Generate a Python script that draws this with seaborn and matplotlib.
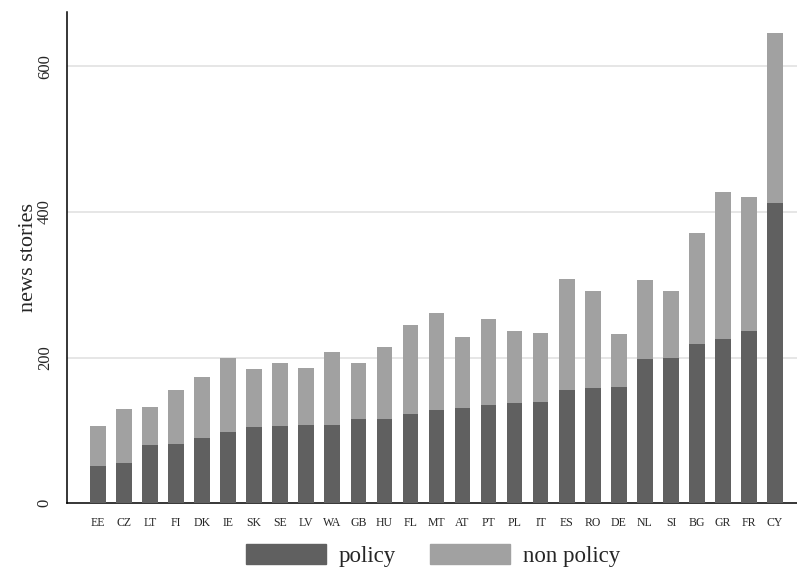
import matplotlib
matplotlib.use('Agg')

import matplotlib.pyplot as plt
import matplotlib.patches as mpatches
import pandas as pd
import seaborn as sns

sns.set_style("white")
plt.rcParams['font.family'] = ['Liberation Serif', 'DejaVu Serif']

# data
countries = ["EE", "CZ", "LT", "FI", "DK", "IE", "SK", "SE", "LV", "WA", "GB", "HU", "FL",
             "MT", "AT", "PT", "PL", "IT", "ES", "RO", "DE", "NL", "SI", "BG", "GR", "FR", "CY"]
policy = [51, 56, 80, 81, 90, 98, 105, 106, 107, 108, 116, 116, 122,
          128, 131, 135, 138, 139, 156, 158, 160, 198, 199, 219, 226, 237, 413]
total = [106, 130, 132, 155, 173, 199, 184, 192, 186, 208, 193, 214, 245,
         262, 229, 253, 237, 234, 308, 291, 233, 307, 292, 371, 427, 420, 646]

df = pd.DataFrame({"country": countries, "policy": policy, "total": total})

dark = "#606060"
light = "#a1a1a1"

fig = plt.figure(figsize=(7.97, 5.71), dpi=100)
ax = fig.add_axes([0.0837, 0.1185, 0.9163, 0.8605])

# total first (light), policy drawn over it (dark) -> stacked look
sns.barplot(data=df, x="country", y="total", color=light, width=0.6,
            saturation=1, edgecolor="none", ax=ax, zorder=2)
sns.barplot(data=df, x="country", y="policy", color=dark, width=0.6,
            saturation=1, edgecolor="none", ax=ax, zorder=3)

ax.set_ylim(0, 674.6)
ax.set_xlim(-1.196, 26.84)
ax.set_yticks([0, 200, 400, 600])
ax.set_yticklabels(["0", "200", "400", "600"], rotation=90, va="center", fontsize=12)
ax.tick_params(axis="y", length=6, width=1, color="black", pad=4)
ax.tick_params(axis="x", length=0, labelsize=8.5, pad=10)
for y in [200, 400, 600]:
    ax.axhline(y, color="#e2e2e2", lw=1.2, zorder=1)

ax.set_xlabel("")
ax.set_ylabel("news stories", fontsize=16, labelpad=-1)
for s in ["top", "right"]:
    ax.spines[s].set_visible(False)
for s in ["left", "bottom"]:
    ax.spines[s].set_color("black")
    ax.spines[s].set_linewidth(1.1)

handles = [mpatches.Patch(color=dark, label="policy"),
           mpatches.Patch(color=light, label="non policy")]
fig.legend(handles=handles, loc="center", bbox_to_anchor=(0.543, 0.027), ncol=2,
           frameon=False, fontsize=16.5, handlelength=3.5, handleheight=0.96,
           handletextpad=0.55, columnspacing=1.5, borderpad=0.2)

fig.savefig("out.png", dpi=100)
